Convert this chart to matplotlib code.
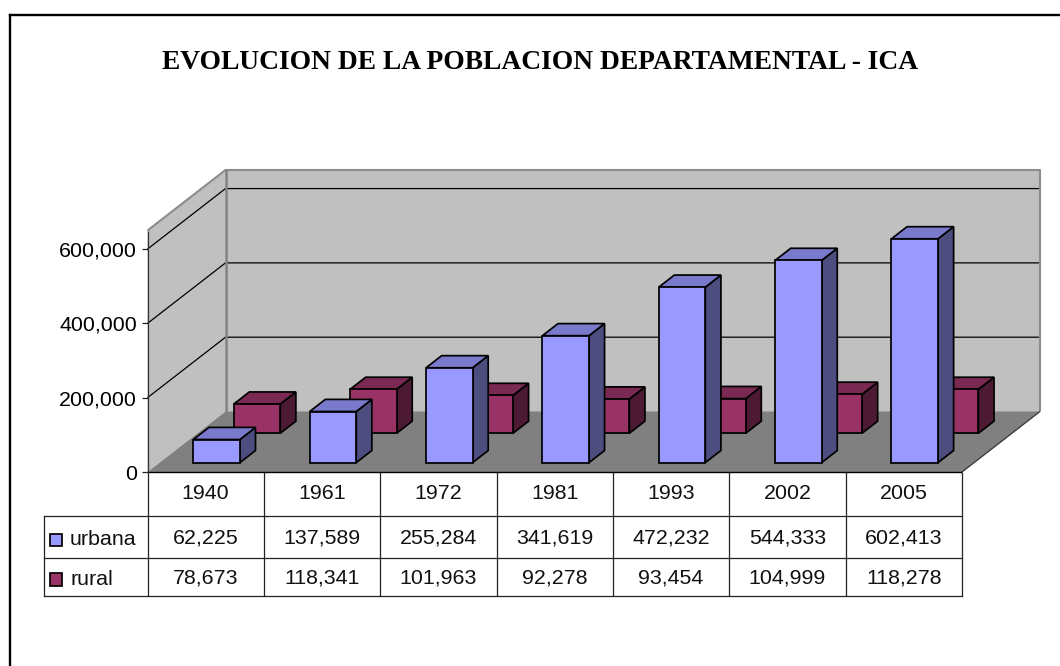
import matplotlib
matplotlib.use("Agg")
import matplotlib.pyplot as plt
from matplotlib.patches import Polygon, Rectangle
from matplotlib.lines import Line2D
from matplotlib.ticker import FuncFormatter
from matplotlib.transforms import IdentityTransform

TITLE = "EVOLUCION DE LA POBLACION DEPARTAMENTAL - ICA"
years = ["1940", "1961", "1972", "1981", "1993", "2002", "2005"]
urbana = [62225, 137589, 255284, 341619, 472232, 544333, 602413]
rural = [78673, 118341, 101963, 92278, 93454, 104999, 118278]
yticks = [0, 200000, 400000, 600000]

W, H = 1060, 666
FONT = ["Liberation Sans", "DejaVu Sans"]
FS = 15.4
plt.rcParams["font.family"] = FONT
plt.rcParams["text.color"] = "#111111"
fig = plt.figure(figsize=(W / 100, H / 100), dpi=100, facecolor="white")

# overlay in pixel coordinates for frame and table rules
page = fig.add_axes([0, 0, 1, 1], zorder=0)
page.set_xlim(0, W)
page.set_ylim(H, 0)
page.axis("off")

X0, X1, Y0, YTOP = 147.5, 962.0, 472.0, 230.5
ax = fig.add_axes([X0 / W, (H - Y0) / H, (X1 - X0) / W, (Y0 - YTOP) / H], zorder=1)
ax.patch.set_alpha(0)
ax.set_xlim(0, len(years))
ax.set_ylim(0, 650000)
for s in ax.spines.values():
    s.set_visible(False)
ax.set_xticks([])
ax.set_yticks(yticks)
ax.yaxis.set_major_formatter(FuncFormatter(lambda v, _: f"{int(v):,}"))
ax.tick_params(axis="y", length=4.5, width=0.9, pad=3, labelsize=FS, color="#222222")

DX, DY = 78.0, 60.5  # full depth in pixels
I = IdentityTransform()


def proj(x, v, t=0.0):
    px, py = ax.transData.transform((x, v))
    return (px + DX * t, py + DY * t)


def poly(pts, fc, ec="none", lw=0, z=1):
    ax.add_patch(Polygon(pts, closed=True, fc=fc, ec=ec, lw=lw, zorder=z, transform=I,
                         clip_on=False, joinstyle="miter"))


def line(pts, c="black", lw=0.9, z=2):
    ax.add_line(Line2D([p[0] for p in pts], [p[1] for p in pts], color=c, lw=lw, zorder=z,
                       transform=I, clip_on=False, solid_capstyle="butt"))


n = len(years)
vtop = 650000
# walls and floor
poly([proj(0, 0, 0), proj(0, 0, 1), proj(0, vtop, 1), proj(0, vtop, 0)], "#c0c0c0")
poly([proj(0, 0, 1), proj(n, 0, 1), proj(n, vtop, 1), proj(0, vtop, 1)], "#c0c0c0")
poly([proj(0, 0, 0), proj(n, 0, 0), proj(n, 0, 1), proj(0, 0, 1)], "#808080")
for v in yticks[1:]:
    line([proj(0, v, 0), proj(0, v, 1), proj(n, v, 1)])
line([proj(0, vtop, 0), proj(0, vtop, 1), proj(n, vtop, 1), proj(n, 0, 1)], c="#8c8c8c", lw=1.5)
line([proj(0, 0, 1), proj(0, vtop, 1)], c="#808080", lw=1.8)
line([proj(0, 0, 0), proj(0, vtop, 0)], c="#333333", lw=0.9)
line([proj(n, 0, 0), proj(n, 0, 1)], c="#333333", lw=0.9)
line([proj(0, 0, 0), proj(n, 0, 0)], c="black", lw=1.0, z=6)

BW = 0.4
DEPTH = 0.2


def box(i, frac, t, v, face, side, top, z):
    a, b = i + frac, i + frac + BW
    e = dict(ec="black", lw=1.25, z=z)
    poly([proj(b, 0, t), proj(b, 0, t + DEPTH), proj(b, v, t + DEPTH), proj(b, v, t)], side, **e)
    poly([proj(a, v, t), proj(b, v, t), proj(b, v, t + DEPTH), proj(a, v, t + DEPTH)], top, **e)
    poly([proj(a, 0, t), proj(b, 0, t), proj(b, v, t), proj(a, v, t)], face, **e)


for i, v in enumerate(rural):
    box(i, 0.312, 0.64, v, "#993366", "#4d1a33", "#7a2952", 3)
for i, v in enumerate(urbana):
    box(i, 0.29, 0.155, v, "#9999ff", "#4d4d80", "#7a7acc", 4)

# page frame
page.add_line(Line2D([9.5, 9.5], [H, 15], color="black", lw=1.7, solid_joinstyle="miter"))
page.add_line(Line2D([9.5, W], [15, 15], color="black", lw=1.7, solid_joinstyle="miter"))

# title
page.text(540, 69, TITLE, family=["Liberation Serif"], fontweight="bold", fontsize=19.85,
          ha="center", va="baseline", color="black")

# data table
cw = (X1 - X0) / n
ROWS = [473, 515.5, 557.5, 595.5]
TL = 43.5
rule = dict(color="#222222", lw=0.9)
for k in range(n + 1):
    page.add_line(Line2D([X0 + k * cw] * 2, [ROWS[0], ROWS[3]], **rule))
page.add_line(Line2D([TL, TL], [ROWS[1], ROWS[3]], **rule))
page.add_line(Line2D([TL, X1], [ROWS[1]] * 2, **rule))
page.add_line(Line2D([TL, X1], [ROWS[2]] * 2, **rule))
page.add_line(Line2D([TL, X1], [ROWS[3]] * 2, **rule))

for k, y in enumerate(years):
    page.text(X0 + (k + .5) * cw, 499, y, ha="center", va="baseline", fontsize=FS)
for k, v in enumerate(urbana):
    page.text(X0 + (k + .5) * cw, 543, f"{v:,}", ha="center", va="baseline", fontsize=FS)
for k, v in enumerate(rural):
    page.text(X0 + (k + .5) * cw, 583, f"{v:,}", ha="center", va="baseline", fontsize=FS)

page.add_patch(Rectangle((49.5, 533.5), 12.5, 12.5, fc="#9999ff", ec="black", lw=1.25))
page.add_patch(Rectangle((49.5, 573), 12.5, 12.5, fc="#993366", ec="black", lw=1.25))
page.text(70, 545, "urbana", ha="left", va="baseline", fontsize=FS)
page.text(70, 585, "rural", ha="left", va="baseline", fontsize=FS)

fig.savefig("out.png", dpi=100)
